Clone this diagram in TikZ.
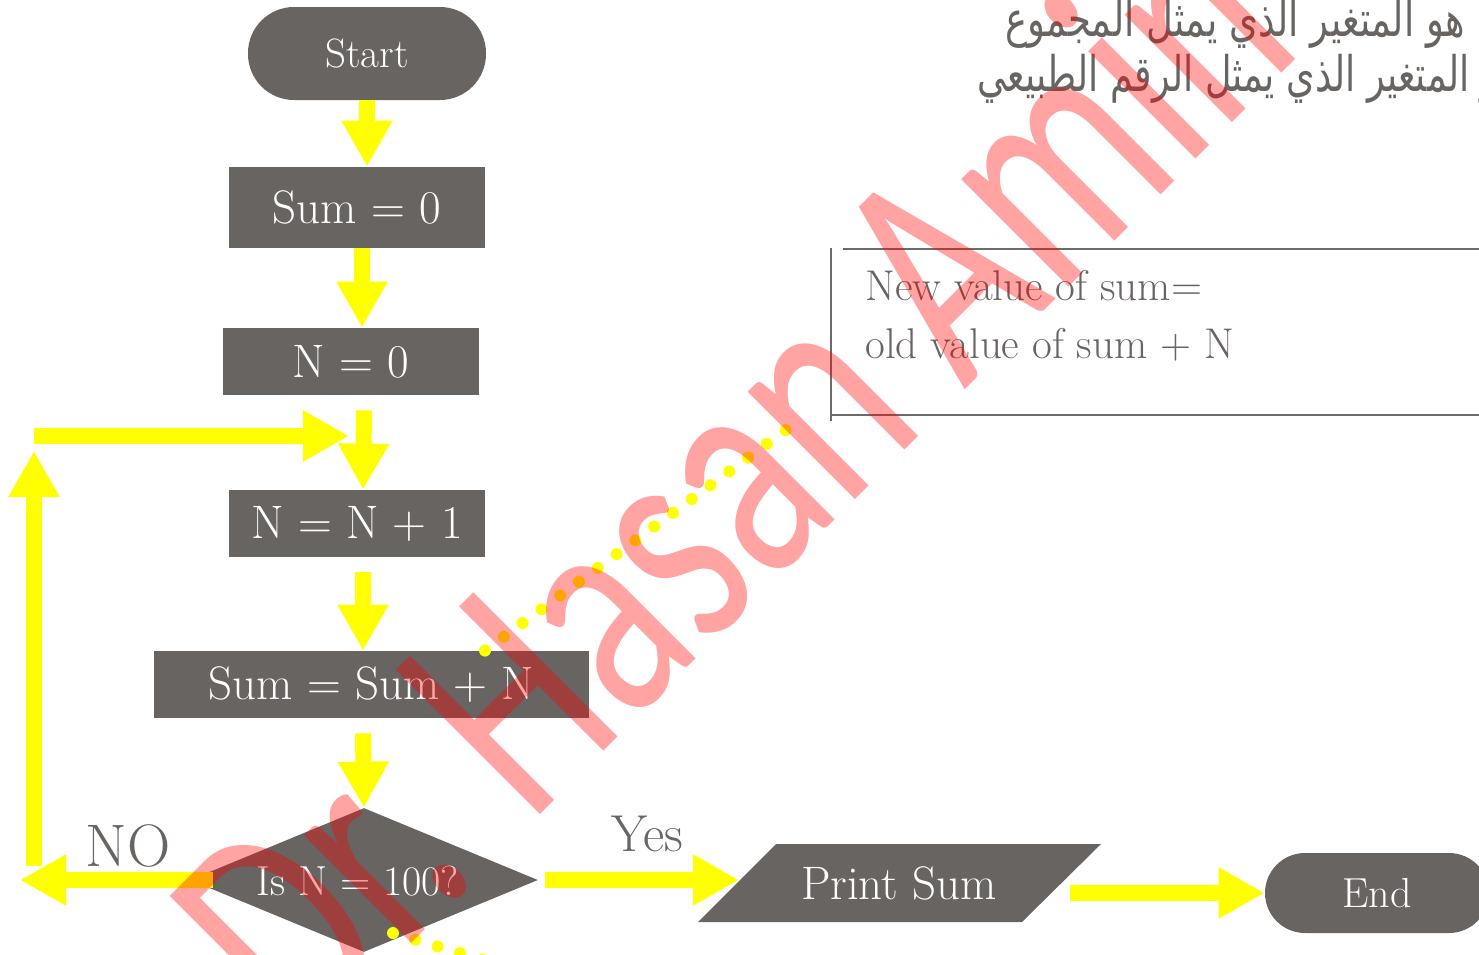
\documentclass[tikz,border=0pt]{standalone}
\usepackage{fontspec}
\newfontfamily\arabicfont[Script=Arabic]{DejaVu Sans}
\newfontfamily\wmfont{Carlito}
\TeXXeTstate=1
\usetikzlibrary{shapes.geometric,arrows.meta,calc}
\definecolor{boxgray}{HTML}{686462}
\definecolor{linegray}{HTML}{6E6A68}
\definecolor{ylw}{HTML}{FFFF00}
\begin{document}
\begin{tikzpicture}[x=0.5pt,y=-0.5pt,
  box/.style={fill=boxgray, text=white, inner sep=0pt, font=\fontsize{23.5pt}{27pt}\selectfont},
  procbox/.style={box, rectangle},
  term/.style={box, rectangle},
  decbox/.style={box, diamond, aspect=2.4, font=\fontsize{21pt}{25pt}\selectfont},
  yarrow/.style={draw=ylw, line width=8pt, -{Triangle[width=24pt,length=23pt]}},
  dotline/.style={draw=ylw, line width=6pt, line cap=round, dash pattern=on 0pt off 11.65pt},
  lbl/.style={text=boxgray, inner sep=0pt},
  calline/.style={draw=linegray, line width=1pt},
  caltext/.style={text=boxgray, inner sep=0pt, anchor=base west, font=\fontsize{21.5pt}{26pt}\selectfont},
  arab/.style={text=boxgray, inner sep=0pt, anchor=base west, font=\fontsize{24.5pt}{28pt}\selectfont},
  wm/.style={rotate=45, anchor=base west, inner sep=0pt, text=red, text opacity=0.36, font=\wmfont\fontsize{159pt}{165pt}\selectfont}
]
\useasboundingbox (0,0) rectangle (1479,954);

% Arabic notes (top right)
\node[arab] (ar1) at (1005,36) {\scalebox{0.755}[1]{\arabicfont\beginR : هو المتغير الذي يمثل المجموع\endR}};
\node[arab] (ar2) at (977,91) {\scalebox{0.745}[1]{\arabicfont\beginR هو المتغير الذي يمثل الرقم الطبيعي\endR}};

% flowchart nodes
\node[term, rounded corners=23pt, minimum width=119pt, minimum height=46.5pt, font=\fontsize{20.5pt}{24pt}\selectfont] (start) at (367,53.5) {Start};
\node[procbox, minimum width=128pt, minimum height=40.5pt] (sum0) at (357,207.5) {Sum = 0};
\node[procbox, minimum width=128pt, minimum height=33.5pt] (n0) at (351,361.5) {N = 0};
\node[procbox, minimum width=128pt, minimum height=33.5pt] (nn1) at (357,523.5) {N = N + 1};
\node[procbox, minimum width=217.5pt, minimum height=33.5pt] (sumn) at (371.5,684.5) {Sum = Sum + N};
\node[decbox, minimum width=174pt, minimum height=72pt] (dec) at (364,880) {};
\node[text=white, inner sep=0pt, font=\fontsize{21pt}{25pt}\selectfont] (dectext) at (358,881) {Is N = 100?};
\fill[boxgray] (698,922) -- (1022,922) -- (1101,844) -- (776,844) -- cycle;
\node[text=white, inner sep=0pt, font=\fontsize{23.5pt}{27pt}\selectfont] (print) at (899,883) {Print Sum};
\node[term, rounded corners=20pt, minimum width=112pt, minimum height=40pt, font=\fontsize{21pt}{25pt}\selectfont] (end) at (1377,893) {End};

% callout
\node[caltext] (cal1) at (865,300) {New value of sum=};
\node[caltext] (cal2) at (865,358) {old value of sum + N};
\draw[calline] (831,248) -- (831,421);
\draw[calline] (843,249) -- (1480,249);
\draw[calline] (831,415) -- (1480,415);

% labels
\node[lbl, font=\fontsize{30pt}{34pt}\selectfont] (no) at (128,846) {NO};
\node[lbl, font=\fontsize{26pt}{30pt}\selectfont] (yes) at (647,834) {Yes};

% connectors
\coordinate (loopL) at (34,436);
\coordinate (loopR) at (349,436);
\coordinate (loopB) at (34,866);
\coordinate (loopT) at (34,451);
\coordinate (noEnd) at (20,880);
\coordinate (printL) at (739,880);
\coordinate (printR) at (1070,893);
\coordinate (d1b) at (798,421);
\coordinate (d2b) at (513,969);

\draw[yarrow] (start.south) -- (start.south |- sum0.north);
\draw[yarrow] ($(sum0.south)+(5,0)$) -- ($(n0.north)+(11,0)$);
\draw[yarrow] ($(n0.south)+(13,15)$) -- ($(nn1.north)+(6,0)$);
\draw[yarrow] (loopL) -- (loopR);
\draw[yarrow] (loopB) -- (loopT);
\draw[yarrow] ($(nn1.south)+(6,15)$) -- ($(sumn.north)+(-8.5,0)$);
\draw[yarrow] ($(sumn.south)+(-8.5,15)$) -- (dec.north);
\draw[yarrow] ($(dec.west)+(23,0)$) -- (noEnd);
\draw[yarrow] ($(dec.east)+(7,0)$) -- (printL);
\draw[yarrow] (printR) -- (end.west);

\draw[dotline] ($(sumn.north)+(113.5,0)$) -- (d1b);
\draw[dotline] ($(dec.center)+(29,53)$) -- (d2b);

% watermark
\node[wm] (wm) at (303.5,1051.5) {\scalebox{0.71}[1]{Dr. Hasan Amin}};
\end{tikzpicture}
\end{document}
